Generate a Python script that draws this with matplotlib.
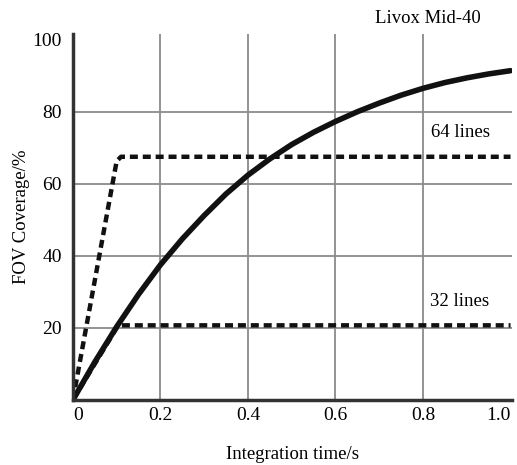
import matplotlib
matplotlib.use("Agg")
import matplotlib.pyplot as plt

plt.rcParams['font.family'] = ['Liberation Serif', 'DejaVu Serif']

# Livox Mid-40 coverage curve
t_mid40 = [0, 0.05, 0.1, 0.15, 0.2, 0.25, 0.3, 0.35, 0.4, 0.45, 0.5,
           0.55, 0.6, 0.65, 0.7, 0.75, 0.8, 0.85, 0.9, 0.95, 1.0]
cov_mid40 = [0, 10.5, 20.3, 29.3, 37.5, 44.7, 51.2, 57.2, 62.4, 66.9, 70.9,
             74.3, 77.3, 80.0, 82.4, 84.6, 86.5, 88.1, 89.4, 90.5, 91.4]

# 64 line lidar
t_64 = [0, 0.1, 0.11, 1.0]
cov_64 = [0, 66.3, 67.5, 67.5]

# 32 line lidar
t_32 = [0, 0.1, 0.11, 1.0]
cov_32 = [0, 20, 20.7, 20.7]

xticks = [0, 0.2, 0.4, 0.6, 0.8, 1.0]
xticklabels = ['0', '0.2', '0.4', '0.6', '0.8', '1.0']
yticks = [20, 40, 60, 80, 100]

fig = plt.figure(figsize=(5.17, 4.65), dpi=100)
ax = fig.add_axes([0.141, 0.140, 0.849, 0.787])

ax.plot(t_64, cov_64, color='#111111', lw=3.2, dashes=(1.8, 1.1))
ax.plot(t_32, cov_32, color='#111111', lw=3.2, dashes=(1.8, 1.1))
ax.plot(t_mid40, cov_mid40, color='#111111', lw=4, solid_capstyle='round',
        solid_joinstyle='round')

ax.set_xlim(0, 1.003)
ax.set_ylim(0, 101.6)
ax.set_xticks(xticks)
ax.set_xticklabels(xticklabels)
ax.set_yticks(yticks)
labels = ax.get_xticklabels()
labels[0].set_horizontalalignment('left')
labels[-1].set_horizontalalignment('right')

for x in [0.2, 0.4, 0.6, 0.8]:
    ax.axvline(x, color='#8a8a8a', lw=1.3, zorder=0)
for y in [20, 40, 60, 80]:
    ax.axhline(y, color='#8a8a8a', lw=1.3, zorder=0)

ax.spines['top'].set_visible(False)
ax.spines['right'].set_visible(False)
ax.spines['left'].set_linewidth(2.5)
ax.spines['bottom'].set_linewidth(2.5)
ax.spines['left'].set_color('#333333')
ax.spines['bottom'].set_color('#333333')
ax.tick_params(length=0, labelsize=14)
ax.tick_params(axis='x', pad=5)
ax.tick_params(axis='y', pad=8)

ax.set_xlabel('Integration time/s', fontsize=13.5, labelpad=16)
ax.set_ylabel('FOV Coverage/%', fontsize=13.5, labelpad=2)

ax.text(0.932, 106, 'Livox Mid-40', fontsize=13.5, ha='right', va='center')
ax.text(0.952, 74.2, '64 lines', fontsize=13.5, ha='right', va='center')
ax.text(0.952, 27.2, '32 lines', fontsize=13.5, ha='right', va='center')

fig.savefig('out.png', dpi=100)
